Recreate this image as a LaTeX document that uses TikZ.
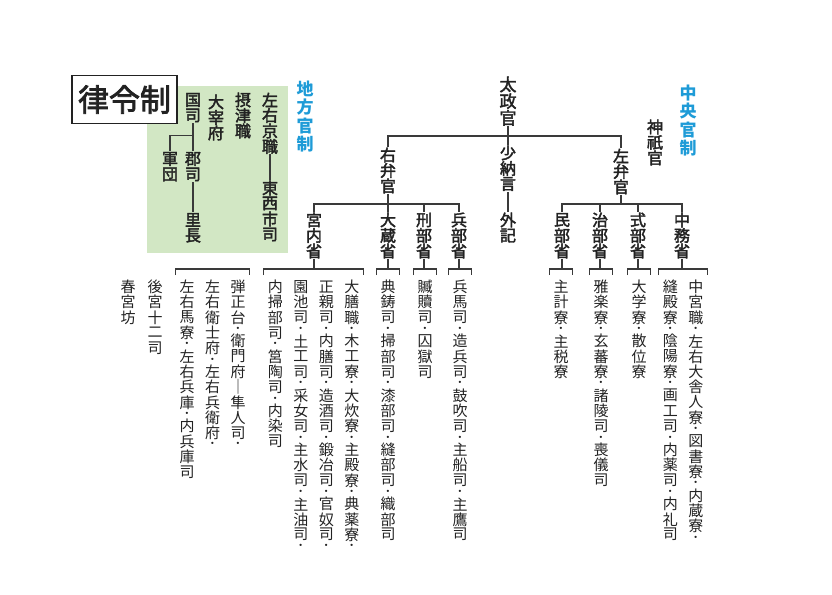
\documentclass[tikz,border=0pt]{standalone}
\usepackage{fontspec}
\newfontfamily\jp{Noto Sans CJK JP}
\newfontfamily\jpm[FakeBold=2.5]{Noto Sans CJK JP}
\usetikzlibrary{positioning}

\definecolor{ink}{HTML}{222222}
\definecolor{wirec}{HTML}{3A3A3A}
\definecolor{sky}{HTML}{1E9BD7}
\definecolor{leaf}{HTML}{D2E7C4}

% vertical text: one character per line, dots get about half a step
\def\vr{1.02}
\ExplSyntaxOn
\NewDocumentCommand \vtxt { m }
  {
    \vtop
      {
        \offinterlineskip
        \tl_map_inline:nn {#1}
          {
            \str_if_eq:nnTF {##1} {・}
              { \vbox to \dimexpr \vr em * 55 / 100 \relax { \vss \hbox to 1em { \hss {\bfseries\fontsize{8.2}{8.2}\selectfont ##1} \hss } \vss } }
              { \vbox to \vr em { \vss \hbox to 1em { \hss ##1 \hss } \vss } }
          }
      }
  }
\ExplSyntaxOff

\tikzset{
  kan/.style={font=\jpm\fontsize{16}{16}\selectfont, execute at begin node={\def\vr{0.97}},
    text=ink, inner sep=0pt, anchor=north},
  sub/.style={font=\jp\fontsize{15}{15}\selectfont, execute at begin node={\def\vr{1.02}},
    text=ink, inner xsep=4pt, inner ysep=0pt, anchor=north},
  tag/.style={font=\jp\bfseries\fontsize{17}{17}\selectfont, execute at begin node={\def\vr{1.07}},
    text=sky, inner sep=0pt, anchor=north},
  wire/.style={draw=wirec, line width=1.1pt},
}

\begin{document}
\begin{tikzpicture}[x=1pt,y=-1pt]
\useasboundingbox (0,0) rectangle (832,594);

% local offices
\fill[leaf] (147,86) rectangle (288,253);
\node[draw=ink, line width=1.2pt, fill=white, minimum width=105, minimum height=48,
  inner sep=0pt, text=ink, font=\jpm\fontsize{31}{31}\selectfont] (ritsu) at (124.5,99.5) {律令制};
\node[tag] (chiho) at (305,80) {\vtxt{地方官制}};
\node[kan] (sakyo) at (270,92) {\vtxt{左右京職}};
\node[kan] (tozai) at (270,180) {\vtxt{東西市司}};
\node[kan] (settsu) at (243,92) {\vtxt{摂津職}};
\node[kan] (dazai) at (216,94) {\vtxt{大宰府}};
\node[kan] (kokushi) at (193,92) {\vtxt{国司}};
\node[kan] (gunji) at (193,151) {\vtxt{郡司}};
\node[kan] (richo) at (193,212) {\vtxt{里長}};
\node[kan] (gundan) at (170,151) {\vtxt{軍団}};

\draw[wire] (sakyo.south) -- (tozai.north);
\draw[wire] (kokushi.south) -- (gunji.north);
\draw[wire] (gunji.south) -- (richo.north);
\draw[wire] (gundan.north) |- ([yshift=-12pt]kokushi.south);

% central offices
\node[tag] (chuo) at (688,84) {\vtxt{中央官制}};
\node[kan, font=\jpm\fontsize{17}{17}\selectfont, execute at begin node={\def\vr{0.98}}] (daijo) at (508,76) {\vtxt{太政官}};
\node[kan] (jingi) at (655,119) {\vtxt{神祇官}};
\node[kan] (ubenkan) at (388,147) {\vtxt{右弁官}};
\node[kan] (shonagon) at (508,145) {\vtxt{少納言}};
\node[kan] (sadaikan) at (621,148) {\vtxt{左弁官}};
\node[kan] (geki) at (508,212) {\vtxt{外記}};

\node[kan] (kunai) at (314,212) {\vtxt{宮内省}};
\node[kan] (okura) at (388,212) {\vtxt{大蔵省}};
\node[kan] (gyobu) at (424,212) {\vtxt{刑部省}};
\node[kan] (hyobu) at (459,212) {\vtxt{兵部省}};
\node[kan] (minbu) at (562,212) {\vtxt{民部省}};
\node[kan] (jibu) at (600,212) {\vtxt{治部省}};
\node[kan] (shikibu) at (638,212) {\vtxt{式部省}};
\node[kan] (nakatsukasa) at (682,212) {\vtxt{中務省}};

\draw[wire] (daijo.south) -- (shonagon.north);
\draw[wire] (ubenkan.north) |- ([yshift=9pt]shonagon.north) -| (sadaikan.north);
\draw[wire] (shonagon.south) -- (geki.north);
\draw[wire] (kunai.north) |- ([yshift=8pt]okura.north) -| (hyobu.north);
\draw[wire] (ubenkan.south) -- (okura.north);
\draw[wire] (gyobu.north) -- ([yshift=8pt]gyobu.north);
\draw[wire] (minbu.north) |- ([yshift=8pt]jibu.north) -| (nakatsukasa.north);
\draw[wire] (sadaikan.south) -- ([yshift=8pt]sadaikan.south |- jibu.north);
\draw[wire] (jibu.north) -- ([yshift=8pt]jibu.north);
\draw[wire] (shikibu.north) -- ([yshift=8pt]shikibu.north);

% bureaus under each ministry
\node[sub] (kunaiL) at (313.5,279) {\vtxt{内掃部司・筥陶司・内染司}\hskip10.5pt\vtxt{園池司・土工司・采女司・主水司・主油司・}\hskip10.5pt\vtxt{正親司・内膳司・造酒司・鍛冶司・官奴司・}\hskip10.5pt\vtxt{大膳職・木工寮・大炊寮・主殿寮・典薬寮・}};
\node[sub] (okuraL) at (388,279) {\vtxt{典鋳司・掃部司・漆部司・縫部司・織部司}};
\node[sub] (gyobuL) at (425,279) {\vtxt{贓贖司・囚獄司}};
\node[sub] (hyobuL) at (460,279) {\vtxt{兵馬司・造兵司・鼓吹司・主船司・主鷹司}};
\node[sub] (minbuL) at (561,279) {\vtxt{主計寮・主税寮}};
\node[sub] (jibuL) at (601,279) {\vtxt{雅楽寮・玄蕃寮・諸陵司・喪儀司}};
\node[sub] (shikibuL) at (639,279) {\vtxt{大学寮・散位寮}};
\node[sub] (nakaL) at (683,279) {\vtxt{縫殿寮・陰陽寮・画工司・内薬司・内礼司}\hskip10.5pt\vtxt{中宮職・左右大舎人寮・図書寮・内蔵寮・}};
\node[sub] (etcL) at (212.5,279) {\vtxt{左右馬寮・左右兵庫・内兵庫司}\hskip10.5pt\vtxt{左右衛士府・左右兵衛府・}\hskip10.5pt\vtxt{弾正台・衛門府｜隼人司・}};
\node[sub] (kokyu) at (155,279) {\vtxt{後宮十二司}};
\node[sub] (togu) at (128,279) {\vtxt{春宮坊}};

\foreach \g in {kunaiL,okuraL,gyobuL,hyobuL,minbuL,jibuL,shikibuL,nakaL,etcL}
  \draw[wire] ([yshift=4pt]\g.north west) |- ([yshift=10pt]\g.north) -| ([yshift=4pt]\g.north east);
\foreach \p/\g in {kunai/kunaiL,okura/okuraL,gyobu/gyobuL,hyobu/hyobuL,minbu/minbuL,jibu/jibuL,shikibu/shikibuL,nakatsukasa/nakaL}
  \draw[wire] (\p.south) -- ([yshift=10pt]\p.south |- \g.north);
\end{tikzpicture}
\end{document}
